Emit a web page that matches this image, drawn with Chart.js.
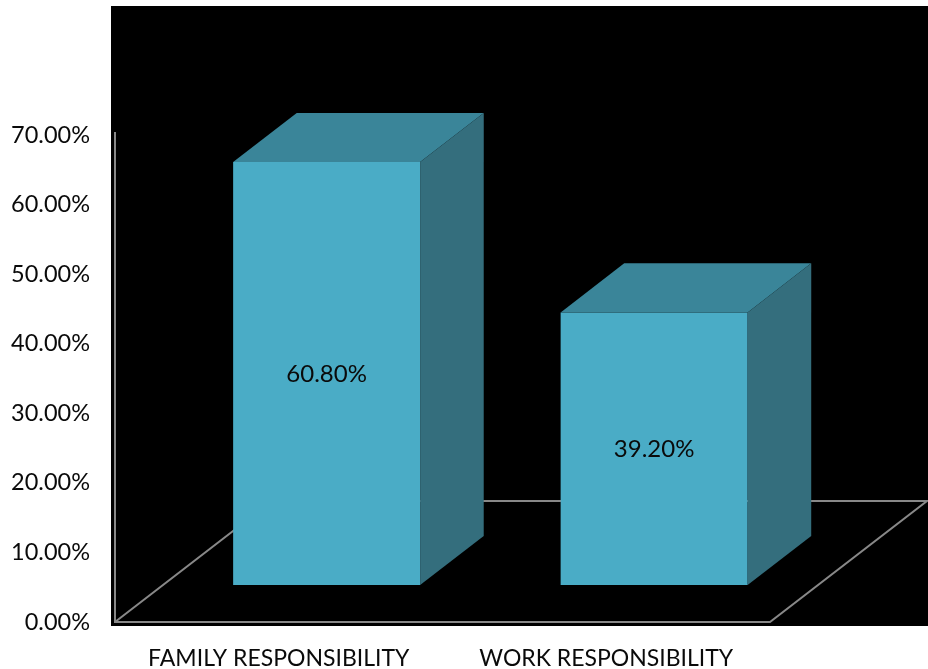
<!DOCTYPE html>
<html>
<head>
<meta charset="utf-8">
<script src="https://cdn.jsdelivr.net/npm/chart.js@4/dist/chart.umd.min.js"></script>
<style>
  html, body { margin: 0; padding: 0; background: #ffffff; }
  #wrap { width: 928px; height: 669px; position: relative; }
</style>
</head>
<body>
<div id="wrap"><canvas id="c" width="928" height="669"></canvas></div>
<script>
const categories = ['FAMILY RESPONSIBILITY', 'WORK RESPONSIBILITY'];
const values = [60.8, 39.2];
const valueLabels = ['60.80%', '39.20%'];
const yTickLabels = ['0.00%', '10.00%', '20.00%', '30.00%', '40.00%', '50.00%', '60.00%', '70.00%'];

const FONT = "Lato, 'Open Sans', sans-serif";
const FRONT = '#4AACC6';
const TOP = '#3A8599';
const SIDE = '#346E7D';
const LINE = '#888888';
// 3D floor depth vector and bar placement within depth
const DEPTH = { x: 157, y: -121 };
const BAR_FRONT = 0.305;
const BAR_BACK = 0.71;

const threeD = {
  id: 'threeD',
  beforeDraw(chart) {
    const { ctx, chartArea: a } = chart;
    ctx.save();
    ctx.fillStyle = '#000000';
    ctx.fillRect(a.left - 4, 6, chart.width - (a.left - 4), a.bottom + 4 - 6);
    // floor + wall axis
    ctx.strokeStyle = LINE;
    ctx.lineWidth = 2;
    ctx.beginPath();
    ctx.moveTo(a.left, a.top - 3);
    ctx.lineTo(a.left, a.bottom);
    ctx.lineTo(a.right, a.bottom);
    ctx.lineTo(a.right + DEPTH.x, a.bottom + DEPTH.y);
    ctx.lineTo(a.left + DEPTH.x, a.bottom + DEPTH.y);
    ctx.lineTo(a.left, a.bottom);
    ctx.stroke();
    ctx.restore();
  },
  beforeDatasetDraw(chart) {
    const ctx = chart.ctx;
    ctx.save();
    ctx.translate(DEPTH.x * BAR_FRONT, DEPTH.y * BAR_FRONT);
  },
  afterDatasetDraw(chart, args) {
    const ctx = chart.ctx;
    const meta = args.meta;
    const dx = DEPTH.x * (BAR_BACK - BAR_FRONT);
    const dy = DEPTH.y * (BAR_BACK - BAR_FRONT);
    meta.data.forEach((bar, i) => {
      const p = bar.getProps(['x', 'y', 'base', 'width'], true);
      const l = p.x - p.width / 2, r = p.x + p.width / 2;
      // top face
      ctx.fillStyle = TOP;
      ctx.beginPath();
      ctx.moveTo(l, p.y);
      ctx.lineTo(l + dx, p.y + dy);
      ctx.lineTo(r + dx, p.y + dy);
      ctx.lineTo(r, p.y);
      ctx.closePath();
      ctx.fill();
      // side face
      ctx.fillStyle = SIDE;
      ctx.beginPath();
      ctx.moveTo(r, p.y);
      ctx.lineTo(r + dx, p.y + dy);
      ctx.lineTo(r + dx, p.base + dy);
      ctx.lineTo(r, p.base);
      ctx.closePath();
      ctx.fill();
      // value label
      ctx.fillStyle = '#0a0a0a';
      ctx.font = "24px " + FONT;
      ctx.textAlign = 'center';
      ctx.textBaseline = 'middle';
      ctx.fillText(valueLabels[i], p.x, (p.y + p.base) / 2 + 1);
    });
    ctx.restore();
  }
};

new Chart(document.getElementById('c'), {
  type: 'bar',
  data: {
    labels: categories,
    datasets: [{
      data: values,
      backgroundColor: FRONT,
      borderWidth: 0,
      barPercentage: 1,
      categoryPercentage: 0.571
    }]
  },
  options: {
    responsive: false,
    animation: false,
    devicePixelRatio: 1,
    layout: { padding: { top: 135, right: 158, left: 0, bottom: 0 } },
    plugins: { legend: { display: false }, tooltip: { enabled: false } },
    scales: {
      x: {
        grid: { display: false, drawTicks: false },
        border: { display: false },
        ticks: { color: '#0a0a0a', font: { family: FONT, size: 23 }, padding: 23, maxRotation: 0, autoSkip: false },
        afterFit(s) { s.height = 47; }
      },
      y: {
        min: 0, max: 70,
        grid: { display: false, drawTicks: false },
        border: { display: false },
        ticks: {
          stepSize: 10,
          color: '#0a0a0a',
          font: { family: FONT, size: 23.5 },
          padding: 25,
          callback: (v, i) => yTickLabels[i]
        },
        afterFit(s) { s.width = 115; }
      }
    }
  },
  plugins: [threeD]
});
</script>
</body>
</html>
